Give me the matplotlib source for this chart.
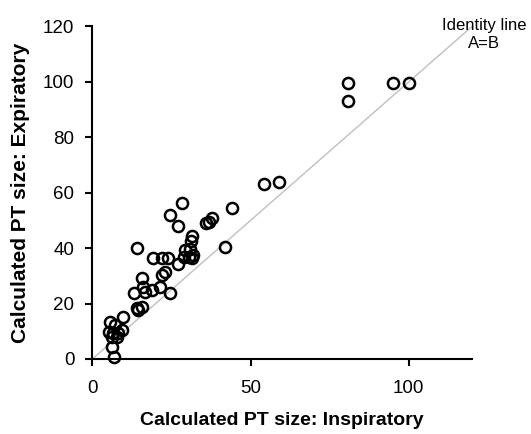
import matplotlib
matplotlib.use("Agg")
import matplotlib.pyplot as plt

# calculated PT size
insp = [80.9, 80.9, 95.1, 100.2, 54.1, 59.1, 44.1, 28.3, 26.9, 24.6,
        36.7, 37.7, 35.9, 31.4, 31.1, 42.0, 29.3, 30.9, 31.9, 28.8,
        30.4, 31.4, 27.2, 14.0, 19.3, 21.9, 24.0, 23.0, 21.9, 15.6,
        16.1, 13.0, 16.7, 18.8, 21.4, 24.6, 14.5, 14.0, 15.6, 9.8,
        5.6, 7.2, 5.1, 6.6, 8.2, 9.3, 7.7, 6.1, 6.1, 6.7]
expi = [99.5, 93.0, 99.5, 99.5, 63.1, 63.9, 54.3, 56.3, 47.9, 51.9,
        49.5, 50.7, 49.1, 44.3, 42.5, 40.3, 39.3, 39.5, 37.5, 36.9,
        36.9, 36.3, 34.2, 40.2, 36.3, 36.6, 36.3, 31.5, 30.3, 29.1,
        26.1, 23.7, 24.3, 24.9, 26.1, 23.7, 17.7, 18.3, 18.8, 15.2,
        13.4, 12.3, 9.8, 9.3, 9.5, 10.5, 8.0, 8.0, 4.4, 0.8]
identity = [0, 120]
xticks = [0, 50, 100]
yticks = [0, 20, 40, 60, 80, 100, 120]

plt.rcParams['font.family'] = ['Liberation Sans', 'DejaVu Sans']

fig = plt.figure(figsize=(5.31, 4.34), dpi=100)
ax = fig.add_axes([0.174, 0.173, 0.715, 0.766])

ax.plot(identity, identity, color='#c4c4c4', lw=1.1, zorder=1)
ax.plot(insp, expi, 'o', ms=8, mfc='none', mec='black', mew=1.8, zorder=2, clip_on=False)

ax.set_xlim(0, 120)
ax.set_ylim(0, 120)
ax.set_xticks(xticks)
ax.set_yticks(yticks)

for s in ['top', 'right']:
    ax.spines[s].set_visible(False)
for s in ['left', 'bottom']:
    ax.spines[s].set_linewidth(1.5)
ax.tick_params(direction='out', length=5, width=1.5, labelsize=13.5)
ax.tick_params(axis='y', pad=8)
ax.tick_params(axis='x', pad=10)

ax.set_xlabel('Calculated PT size: Inspiratory', fontsize=14, fontweight='bold', labelpad=11)
ax.set_ylabel('Calculated PT size: Expiratory', fontsize=15, fontweight='bold', labelpad=9)

ax.text(123.7, 117, 'Identity line\nA=B', ha='center', va='center', fontsize=12,
        linespacing=1.25, clip_on=False)

fig.savefig('out.png', dpi=100)
